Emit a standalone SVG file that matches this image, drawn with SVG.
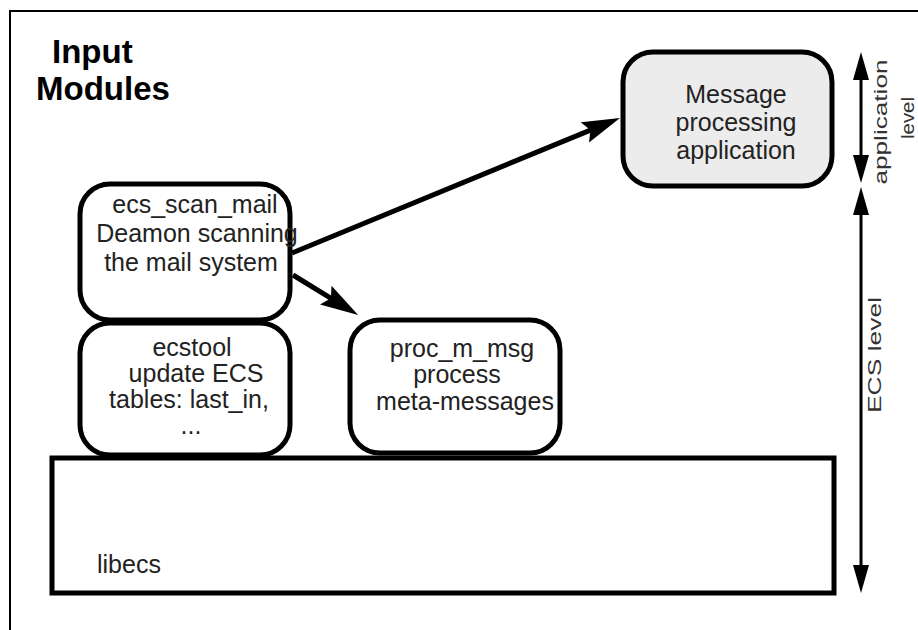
<svg xmlns="http://www.w3.org/2000/svg" width="918" height="630" viewBox="0 0 918 630">
<style>
  .node { fill: #ffffff; stroke: #000; stroke-width: 5; }
  .gray { fill: #ececec; }
  .t { font-family: "Liberation Sans", Arial, sans-serif; font-size: 25px; fill: #222; text-anchor: middle; }
  .title { font-family: "Liberation Sans", Arial, sans-serif; font-size: 33px; font-weight: bold; fill: #000; }
  .side { font-family: "Liberation Sans", Arial, sans-serif; font-size: 18px; fill: #333; text-anchor: middle; }
  .conn { stroke: #000; stroke-width: 5; fill: none; }
  .lvl { stroke: #000; stroke-width: 3; fill: none; }
</style>
<defs>
  <marker id="big" markerUnits="userSpaceOnUse" markerWidth="40" markerHeight="24" refX="10" refY="11" orient="auto" viewBox="0 0 40 24">
    <path d="M0,0 L38,11 L0,22 L6,11 z" fill="#000"/>
  </marker>
  <marker id="thin" markerUnits="userSpaceOnUse" markerWidth="30" markerHeight="16" refX="10" refY="8" orient="auto-start-reverse" viewBox="0 0 30 16">
    <path d="M0,0 L28,8 L0,16 z" fill="#000"/>
  </marker>
</defs>
<rect width="918" height="630" fill="#fff"/>
<path d="M10,640 V11 H930" fill="none" stroke="#000" stroke-width="2"/>

<g id="title">
  <text class="title" x="52" y="63">Input</text>
  <text class="title" x="36" y="100">Modules</text>
</g>

<g id="libecs">
  <rect class="node" x="52" y="458" width="782" height="135"/>
  <text class="t" x="97" y="573" style="text-anchor:start">libecs</text>
</g>

<g id="msgapp">
  <rect class="node gray" x="623" y="52" width="209" height="134" rx="30"/>
  <text class="t" x="736" y="103">Message</text>
  <text class="t" x="736" y="131">processing</text>
  <text class="t" x="736" y="159">application</text>
</g>

<g id="ecs_scan_mail">
  <rect class="node" x="80" y="184" width="210" height="136" rx="30"/>
  <text class="t" x="195" y="213">ecs_scan_mail</text>
  <text class="t" x="197" y="242">Deamon scanning</text>
  <text class="t" x="191" y="271">the mail system</text>
</g>

<g id="ecstool">
  <rect class="node" x="80" y="323" width="210" height="132" rx="30"/>
  <text class="t" x="192" y="356">ecstool</text>
  <text class="t" x="196" y="382">update ECS</text>
  <text class="t" x="189" y="408">tables: last_in,</text>
  <text class="t" x="191" y="434">...</text>
</g>

<g id="proc_m_msg">
  <rect class="node" x="350" y="320" width="210" height="133" rx="30"/>
  <text class="t" x="462" y="357">proc_m_msg</text>
  <text class="t" x="457" y="383">process</text>
  <text class="t" x="465" y="410">meta-messages</text>
</g>

<g id="connectors">
  <line class="conn" x1="292" y1="253" x2="594.1" y2="128.6" marker-end="url(#big)"/>
  <line class="conn" x1="293" y1="275" x2="334.3" y2="300.4" marker-end="url(#big)"/>
  <line class="lvl" x1="861" y1="70" x2="861" y2="165" marker-start="url(#thin)" marker-end="url(#thin)"/>
  <line class="lvl" x1="861" y1="205" x2="861" y2="575" marker-start="url(#thin)" marker-end="url(#thin)"/>
</g>

<g id="levels">
  <text class="side" transform="translate(887,122) rotate(-90)" textLength="125" lengthAdjust="spacingAndGlyphs">application</text>
  <text class="side" transform="translate(914,118) rotate(-90)" textLength="42" lengthAdjust="spacingAndGlyphs">level</text>
  <text class="side" transform="translate(881,355) rotate(-90)" textLength="116" lengthAdjust="spacingAndGlyphs">ECS level</text>
</g>
</svg>
